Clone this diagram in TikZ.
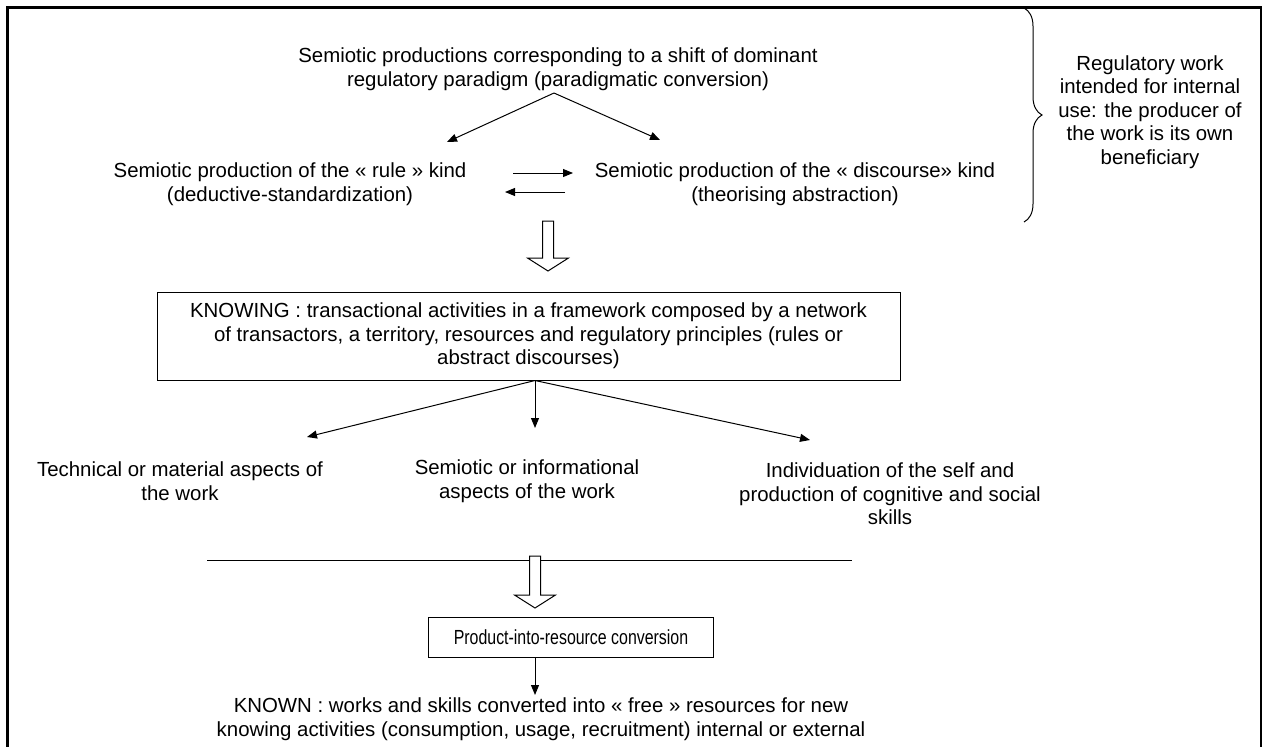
\documentclass[tikz,border=0pt]{standalone}
\usepackage{fontspec}
\setmainfont{Liberation Sans}
\usetikzlibrary{arrows.meta,decorations.pathreplacing}
\begin{document}
\begin{tikzpicture}[x=1pt,y=-1pt,
  txt/.style={inner sep=0pt, align=center, font=\fontsize{20.4}{23.5}\selectfont},
  boxed/.style={txt, draw, line width=1pt},
  conn/.style={line width=1pt, -{Triangle[length=10pt,width=8pt]}},
  plain/.style={line width=1pt},
  hollow/.style={draw, line width=1pt, fill=white, line join=miter}
]
\useasboundingbox (0,0) rectangle (1264,747);
% outer frame (open at the bottom)
\draw[line width=2.5pt] (7.5,780) -- (7.5,7.5) -- (1261,7.5) -- (1261,780);

% top block
\node[txt] (top) at (558,69) {Semiotic productions corresponding to a shift of dominant\\regulatory paradigm (paradigmatic conversion)};
\node[txt] (rule) at (290,184) {Semiotic production of the « rule » kind\\(deductive-standardization)};
\node[txt] (disc) at (795,184) {Semiotic production of the « discourse» kind\\(theorising abstraction)};
\node[txt] (reg) at (1150,112) {Regulatory work\\intended for internal\\use: the producer of\\the work is its own\\beneficiary};

\coordinate (apex) at (554,93);
\coordinate (ruleTip) at (447,142);
\coordinate (discTip) at (660,140);
\draw[conn] (apex) -- (ruleTip);
\draw[conn] (apex) -- (discTip);

\coordinate (rA) at (513,173);
\coordinate (rB) at (573,173);
\coordinate (lA) at (565,192);
\coordinate (lB) at (505,192);
\draw[conn] (rA) -- (rB);
\draw[conn] (lA) -- (lB);

% brace
\coordinate (braceTop) at (1024,8);
\coordinate (braceBot) at (1024,222);
\draw[plain, decorate, decoration={brace, amplitude=18pt}] (braceTop) -- (braceBot);

% hollow arrow 1
\draw[hollow] (542.5,221) -- (553.5,221) -- (553.5,258) -- (568.5,258) -- (548,271) -- (527.5,258) -- (542.5,258) -- cycle;

% KNOWING box
\node[boxed, minimum width=743pt, minimum height=88pt] (know) at (528.5,336) {KNOWING : transactional activities in a framework composed by a network\\of transactors, a territory, resources and regulatory principles (rules or\\abstract discourses)};

\node[txt] (tech) at (180,481) {Technical or material aspects of\\the work};
\node[txt] (semio) at (527,481) {Semiotic or informational\\aspects of the work};
\node[txt] (indiv) at (890,494) {Individuation of the self and\\production of cognitive and social\\skills};

\coordinate (kapex) at ([xshift=6.5pt]know.south);
\coordinate (techTip) at (307,437);
\coordinate (semioTip) at (535,428);
\coordinate (indivTip) at (810,440);
\draw[conn] (kapex) -- (techTip);
\draw[conn] (kapex) -- (semioTip);
\draw[conn] (kapex) -- (indivTip);

% separator line
\coordinate (sepL) at (207,560);
\coordinate (sepR) at (852,560);
\draw[plain] (sepL) -- (sepR);

% hollow arrow 2
\draw[hollow] (529.5,556) -- (540.5,556) -- (540.5,595) -- (555.5,595) -- (535,608) -- (514.5,595) -- (529.5,595) -- cycle;

% product box
\node[boxed, minimum width=285pt, minimum height=40pt] (prod) at (571,637) {\scalebox{0.78}[1]{Product-into-resource conversion}};

\node[txt] (known) at (541,719) {KNOWN : works and skills converted into « free » resources for new\\knowing activities (consumption, usage, recruitment) internal or external};

\coordinate (prodOut) at ([xshift=-36pt]prod.south);
\coordinate (knownTip) at (535,695);
\draw[conn] (prodOut) -- (knownTip);
\end{tikzpicture}
\end{document}
